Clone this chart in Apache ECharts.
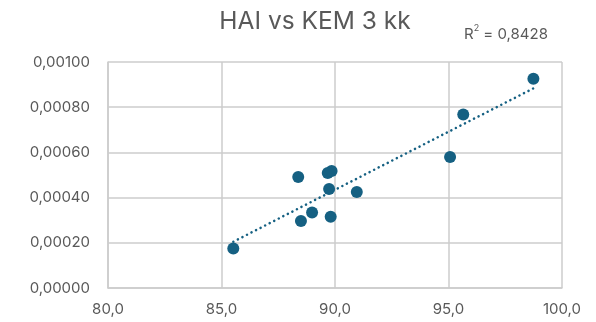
<!DOCTYPE html>
<html>
<head>
<meta charset="utf-8">
<script src="https://cdn.jsdelivr.net/npm/echarts@6/dist/echarts.min.js"></script>
<style>
  html, body { margin: 0; padding: 0; background: #fff; }
  #main { width: 596px; height: 322px; }
</style>
</head>
<body>
<div id="main"></div>
<script>
// HAI (x) vs KEM 3 kk (y)
const haiValues = [85.52, 88.38, 89.68, 89.85, 89.74, 90.96, 88.99, 88.50, 89.81, 98.74, 95.65, 95.07];
const kemValues = [0.000175, 0.000491, 0.000509, 0.000518, 0.000438, 0.000425, 0.000334, 0.000296, 0.000315, 0.000926, 0.000768, 0.000580];
const xTicks = [80, 85, 90, 95, 100];
const yTicks = [0, 0.0002, 0.0004, 0.0006, 0.0008, 0.001];
const titleText = 'HAI vs KEM 3 kk';
const r2Text = '0,8428';

const color = '#156082';
const textColor = '#595959';
const gridColor = '#cccccc';
const font = 'Inter, "Open Sans", sans-serif';

// linear trendline (least squares), like Excel
const n = haiValues.length;
const mx = haiValues.reduce((a, b) => a + b, 0) / n;
const my = kemValues.reduce((a, b) => a + b, 0) / n;
let sxy = 0, sxx = 0;
haiValues.forEach((x, i) => {
    sxy += (x - mx) * (kemValues[i] - my);
    sxx += (x - mx) * (x - mx);
});
const slope = sxy / sxx;
const icpt = my - slope * mx;
const xMin = Math.min(...haiValues);
const xMax = Math.max(...haiValues);

const chart = echarts.init(document.getElementById('main'));
chart.setOption({
    animation: false,
    textStyle: { fontFamily: font },
    title: [
        {
            text: titleText,
            left: 310, top: 4, textAlign: 'center',
            textStyle: { fontSize: 24.5, fontWeight: 'normal', color: textColor, fontFamily: font }
        },
        {
            text: '{r|R}{s|2}{r| = ' + r2Text + '}',
            left: 459, top: 19,
            textStyle: {
                fontWeight: 'normal',
                rich: {
                    r: { fontSize: 15, fontWeight: 'normal', color: textColor, fontFamily: font, verticalAlign: 'bottom' },
                    s: { fontSize: 9, fontWeight: 'normal', color: textColor, fontFamily: font, verticalAlign: 'top', padding: [0, 0, 9, 0] }
                }
            }
        }
    ],
    grid: { left: 108, right: 34, top: 62, bottom: 34 },
    xAxis: {
        type: 'value',
        min: xTicks[0], max: xTicks[xTicks.length - 1], interval: 5,
        axisLine: { show: true, lineStyle: { color: gridColor, width: 1.5 } },
        axisTick: { show: false },
        axisLabel: {
            color: textColor, fontSize: 15, margin: 14,
            formatter: v => v.toFixed(1).replace('.', ',')
        },
        splitLine: { show: true, lineStyle: { color: gridColor, width: 1.5 } }
    },
    yAxis: {
        type: 'value',
        min: yTicks[0], max: yTicks[yTicks.length - 1], interval: 0.0002,
        axisLine: { show: true, lineStyle: { color: gridColor, width: 1.5 } },
        axisTick: { show: false },
        axisLabel: {
            color: textColor, fontSize: 15, margin: 18,
            formatter: v => v.toFixed(5).replace('.', ',')
        },
        splitLine: { show: true, lineStyle: { color: gridColor, width: 1.5 } }
    },
    series: [
        {
            type: 'line',
            data: [[xMin, icpt + slope * xMin], [xMax, icpt + slope * xMax]],
            showSymbol: false,
            symbol: 'none',
            lineStyle: { color: color, width: 2.5, type: [0.1, 5], cap: 'round' },
            z: 3
        },
        {
            type: 'scatter',
            data: haiValues.map((x, i) => [x, kemValues[i]]),
            symbolSize: 12,
            itemStyle: { color: color, opacity: 1 },
            z: 4
        }
    ]
});
</script>
</body>
</html>
